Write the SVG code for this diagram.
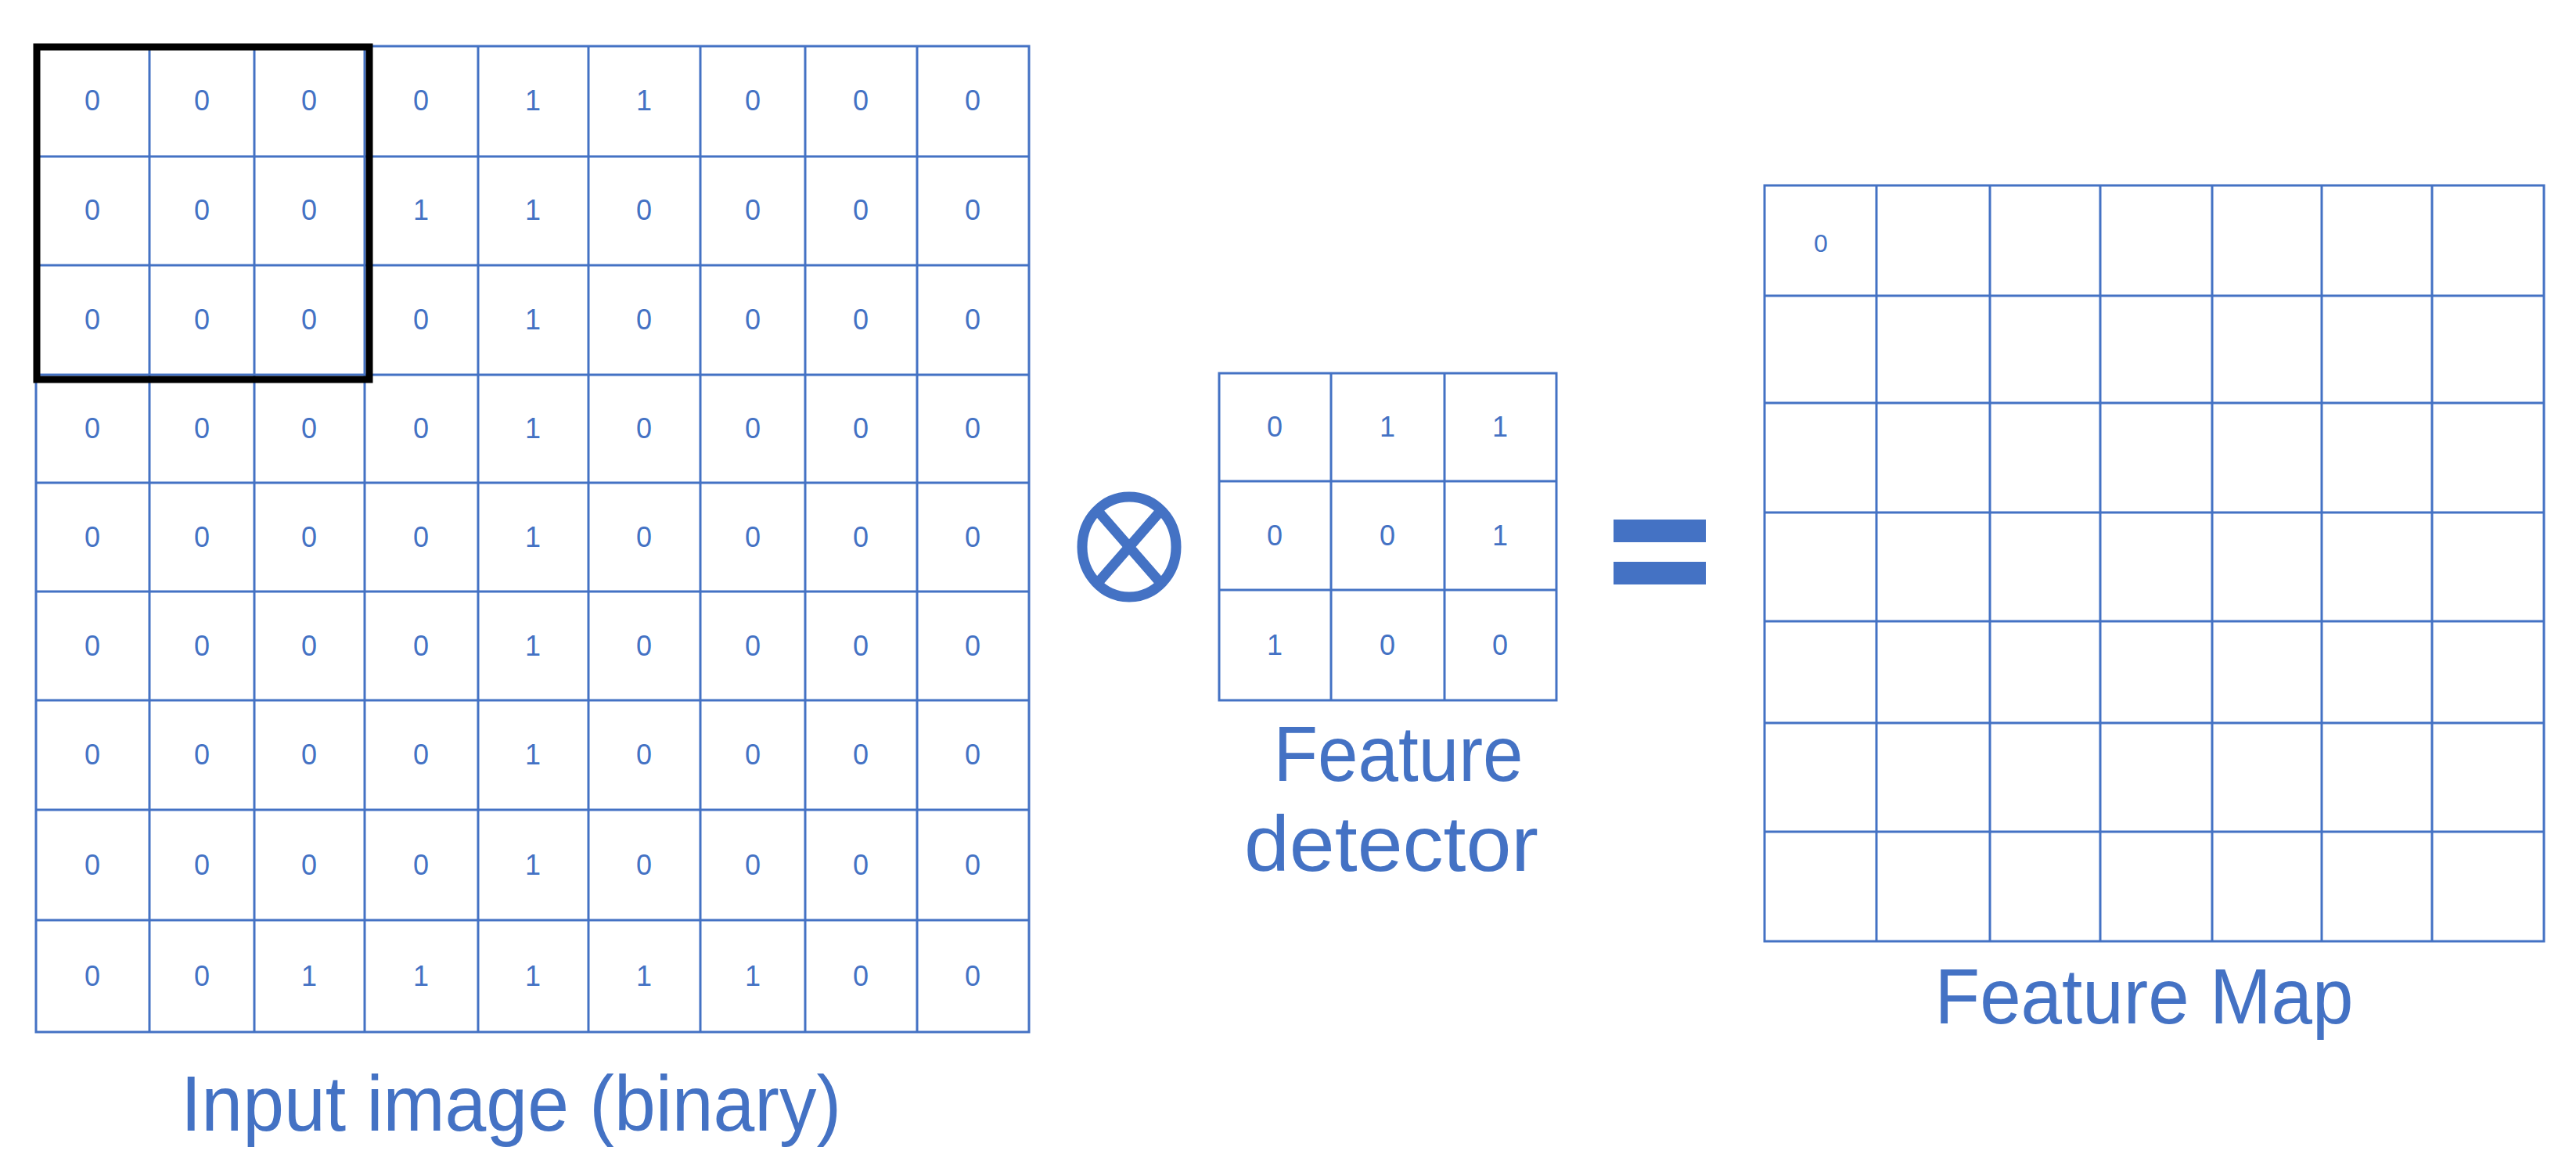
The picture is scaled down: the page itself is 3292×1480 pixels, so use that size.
<svg xmlns="http://www.w3.org/2000/svg" width="3292" height="1480" viewBox="0 0 3292 1480">
<style>
.g{stroke:#4472C4;stroke-width:3;fill:none}
.d{font-family:"Liberation Sans",Arial,sans-serif;font-size:36px;fill:#4472C4;text-anchor:middle}
.l{font-family:"Liberation Sans",Arial,sans-serif;font-size:100px;fill:#4472C4;text-anchor:middle}
</style>
<rect width="3292" height="1480" fill="#fff"/>
<g id="input">
<path class="g" d="M46 59H1315V1319H46Z M191 59V1319 M325 59V1319 M466 59V1319 M611 59V1319 M752 59V1319 M895 59V1319 M1029 59V1319 M1172 59V1319 M46 200H1315 M46 339H1315 M46 479H1315 M46 617H1315 M46 756H1315 M46 895H1315 M46 1035H1315 M46 1176H1315"/>
<g class="d">
<text x="118" y="141">0</text><text x="258" y="141">0</text><text x="395" y="141">0</text><text x="538" y="141">0</text><text x="681" y="141">1</text><text x="823" y="141">1</text><text x="962" y="141">0</text><text x="1100" y="141">0</text><text x="1243" y="141">0</text>
<text x="118" y="281">0</text><text x="258" y="281">0</text><text x="395" y="281">0</text><text x="538" y="281">1</text><text x="681" y="281">1</text><text x="823" y="281">0</text><text x="962" y="281">0</text><text x="1100" y="281">0</text><text x="1243" y="281">0</text>
<text x="118" y="421">0</text><text x="258" y="421">0</text><text x="395" y="421">0</text><text x="538" y="421">0</text><text x="681" y="421">1</text><text x="823" y="421">0</text><text x="962" y="421">0</text><text x="1100" y="421">0</text><text x="1243" y="421">0</text>
<text x="118" y="560">0</text><text x="258" y="560">0</text><text x="395" y="560">0</text><text x="538" y="560">0</text><text x="681" y="560">1</text><text x="823" y="560">0</text><text x="962" y="560">0</text><text x="1100" y="560">0</text><text x="1243" y="560">0</text>
<text x="118" y="699">0</text><text x="258" y="699">0</text><text x="395" y="699">0</text><text x="538" y="699">0</text><text x="681" y="699">1</text><text x="823" y="699">0</text><text x="962" y="699">0</text><text x="1100" y="699">0</text><text x="1243" y="699">0</text>
<text x="118" y="838">0</text><text x="258" y="838">0</text><text x="395" y="838">0</text><text x="538" y="838">0</text><text x="681" y="838">1</text><text x="823" y="838">0</text><text x="962" y="838">0</text><text x="1100" y="838">0</text><text x="1243" y="838">0</text>
<text x="118" y="977">0</text><text x="258" y="977">0</text><text x="395" y="977">0</text><text x="538" y="977">0</text><text x="681" y="977">1</text><text x="823" y="977">0</text><text x="962" y="977">0</text><text x="1100" y="977">0</text><text x="1243" y="977">0</text>
<text x="118" y="1118">0</text><text x="258" y="1118">0</text><text x="395" y="1118">0</text><text x="538" y="1118">0</text><text x="681" y="1118">1</text><text x="823" y="1118">0</text><text x="962" y="1118">0</text><text x="1100" y="1118">0</text><text x="1243" y="1118">0</text>
<text x="118" y="1260">0</text><text x="258" y="1260">0</text><text x="395" y="1260">1</text><text x="538" y="1260">1</text><text x="681" y="1260">1</text><text x="823" y="1260">1</text><text x="962" y="1260">1</text><text x="1100" y="1260">0</text><text x="1243" y="1260">0</text>
</g>
<rect x="47" y="60" width="425" height="425" fill="none" stroke="#000" stroke-width="9"/>
<text class="l" x="653" y="1445" textLength="844" lengthAdjust="spacingAndGlyphs">Input image (binary)</text>
</g>
<g id="otimes" stroke="#4472C4" stroke-width="13" fill="none">
<ellipse cx="1443" cy="699" rx="60" ry="64"/>
<path d="M1402 652L1484 746M1484 652L1402 746"/>
</g>
<g id="detector">
<path class="g" d="M1558 477H1989V895H1558Z M1701 477V895 M1846 477V895 M1558 615H1989 M1558 754H1989"/>
<g class="d">
<text x="1629" y="558">0</text><text x="1773" y="558">1</text><text x="1917" y="558">1</text>
<text x="1629" y="697">0</text><text x="1773" y="697">0</text><text x="1917" y="697">1</text>
<text x="1629" y="837">1</text><text x="1773" y="837">0</text><text x="1917" y="837">0</text>
</g>
<text class="l" x="1787" y="998" textLength="319" lengthAdjust="spacingAndGlyphs">Feature</text>
<text class="l" x="1778" y="1113" textLength="376" lengthAdjust="spacingAndGlyphs">detector</text>
</g>
<g id="equals" fill="#4472C4">
<rect x="2062" y="664" width="118" height="29"/>
<rect x="2062" y="718" width="118" height="29"/>
</g>
<g id="featuremap">
<path class="g" d="M2255 237H3251V1203H2255Z M2398 237V1203 M2543 237V1203 M2684 237V1203 M2827 237V1203 M2967 237V1203 M3108 237V1203 M2255 378H3251 M2255 515H3251 M2255 655H3251 M2255 794H3251 M2255 924H3251 M2255 1063H3251"/>
<text class="d" x="2327" y="322" style="font-size:32px">0</text>
<text class="l" x="2740" y="1308" textLength="535" lengthAdjust="spacingAndGlyphs">Feature Map</text>
</g>
<g id="connectors"/>
</svg>
